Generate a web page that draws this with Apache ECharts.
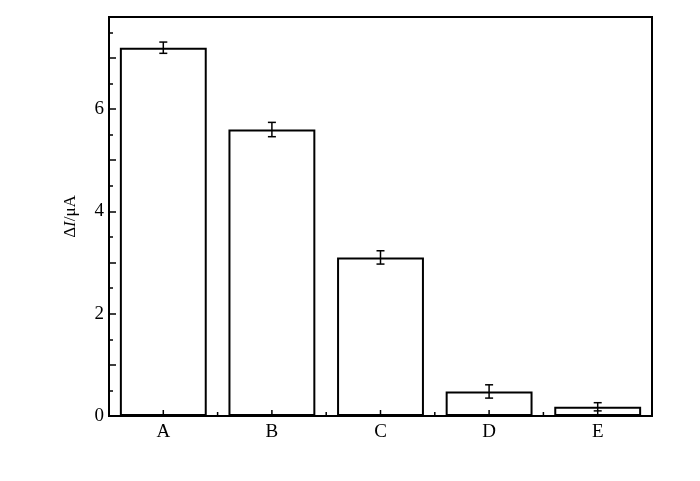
<!DOCTYPE html>
<html>
<head>
<meta charset="utf-8">
<script src="https://cdn.jsdelivr.net/npm/echarts@6/dist/echarts.min.js"></script>
<style>
  html, body { margin: 0; padding: 0; background: #fff; }
  #chart { width: 700px; height: 481px; }
</style>
</head>
<body>
<div id="chart"></div>
<script>
// data
const categories = ['A', 'B', 'C', 'D', 'E']
const values = [7.2, 5.6, 3.1, 0.48, 0.18]
const errors = [0.11, 0.14, 0.13, 0.13, 0.08]
const yTicks = [0, 2, 4, 6]

const FONT = 'Liberation Serif'
const chart = echarts.init(document.getElementById('chart'))

// error bars: vertical line with small caps
const renderError = (params, api) => {
    const i = api.value(0)
    const lo = api.coord([i, api.value(1)])
    const hi = api.coord([i, api.value(2)])
    const cap = 4
    const style = { stroke: '#000', lineWidth: 1.5 }
    return {
        type: 'group',
        children: [
            { type: 'line', shape: { x1: lo[0], y1: lo[1], x2: hi[0], y2: hi[1] }, style },
            { type: 'line', shape: { x1: lo[0] - cap, y1: lo[1], x2: lo[0] + cap, y2: lo[1] }, style },
            { type: 'line', shape: { x1: hi[0] - cap, y1: hi[1], x2: hi[0] + cap, y2: hi[1] }, style }
        ]
    }
}

// x ticks drawn above the bars: long one at each category, short one between categories
const renderXTicks = (params, api) => {
    const i = api.value(0)
    const p = api.coord([i, 0])
    const half = api.size([1, 0])[0] / 2
    const style = { stroke: '#000', lineWidth: 1.5 }
    const children = [
        { type: 'line', shape: { x1: p[0], y1: p[1], x2: p[0], y2: p[1] - 6 }, style }
    ]
    if (i < categories.length - 1) {
        children.push({ type: 'line', shape: { x1: p[0] + half, y1: p[1], x2: p[0] + half, y2: p[1] - 4 }, style })
    }
    return { type: 'group', children }
}

const option = {
    animation: false,
    grid: {
        left: 109, right: 48, top: 17, bottom: 65,
        show: true, borderColor: '#000', borderWidth: 2, backgroundColor: 'transparent'
    },
    xAxis: {
        type: 'category',
        data: categories,
        z: 10,
        axisLine: { lineStyle: { color: '#000', width: 2 } },
        axisTick: { show: false },
        axisLabel: { color: '#000', fontFamily: FONT, fontSize: 19, margin: 7 },
        splitLine: { show: false }
    },
    yAxis: {
        type: 'value',
        min: 0,
        max: 7.8,
        interval: 1,
        z: 10,
        name: '{n|Δ}{i|I}{n|/μA}',
        nameLocation: 'middle',
        nameGap: 30,
        nameRotate: 90,
        nameTextStyle: {
            rich: {
                n: { color: '#000', fontFamily: FONT, fontSize: 17 },
                i: { color: '#000', fontFamily: FONT, fontSize: 17, fontStyle: 'italic' }
            }
        },
        axisLine: { show: true, lineStyle: { color: '#000', width: 2 } },
        axisTick: { show: true, inside: true, length: 7, lineStyle: { color: '#000', width: 1.5 } },
        minorTick: { show: true, splitNumber: 2, length: 4, lineStyle: { color: '#000', width: 1.5 } },
        axisLabel: {
            color: '#000', fontFamily: FONT, fontSize: 19, margin: 5,
            formatter: v => (yTicks.includes(v) ? String(v) : '')
        },
        splitLine: { show: false }
    },
    series: [{
        type: 'bar',
        data: values,
        barWidth: '80%',
        itemStyle: { color: '#fff', borderColor: '#000', borderWidth: 2 }
    }, {
        type: 'custom',
        renderItem: renderError,
        data: values.map((v, i) => [i, v - errors[i], v + errors[i]]),
        z: 5
    }, {
        type: 'custom',
        renderItem: renderXTicks,
        data: categories.map((c, i) => [i]),
        z: 5
    }]
}

chart.setOption(option)
</script>
</body>
</html>
